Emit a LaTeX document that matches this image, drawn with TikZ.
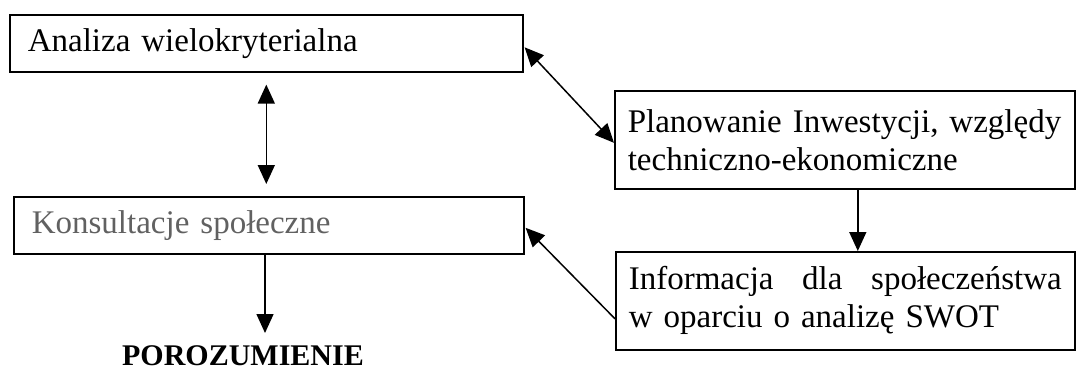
\documentclass[tikz,border=0pt]{standalone}
\usepackage{fontspec}
\setmainfont{Liberation Serif}
\usetikzlibrary{arrows.meta,calc}
\definecolor{txtgray}{rgb}{0.38,0.38,0.38}
\tikzset{
  box/.style={draw, line width=1.6pt, rectangle, anchor=north west, inner ysep=0pt,
    font=\fontsize{33}{38}\selectfont, align=left},
  conn/.style={line width=1.5pt, -{Triangle[length=19pt,width=17pt]}},
  dconn/.style={line width=1.5pt, {Triangle[length=19pt,width=17pt]}-{Triangle[length=19pt,width=17pt]}}
}
\begin{document}
\begin{tikzpicture}[x=1pt,y=-1pt]
\useasboundingbox (0,0) rectangle (1076,373);
\node[box, inner xsep=18pt, text width=477pt, minimum height=57pt] (b1) at (9,14) {Analiza wielokryterialna};
\node[box, inner xsep=18pt, text width=474pt, minimum height=57pt, text=txtgray] (b3) at (13,196) {Konsultacje społeczne};
\node[box, inner xsep=13pt, text width=434pt, minimum height=98pt] (b2) at (614,90) {\mbox{Planowanie Inwestycji, względy}\\techniczno-ekonomiczne};
\node[box, inner xsep=13pt, text width=433pt, minimum height=98pt] (b4) at (615,251) {Informacja\hfill dla\hfill społeczeństwa\\w oparciu o analizę SWOT};
\node[font=\fontsize{30}{34}\selectfont\bfseries, inner sep=0pt, anchor=base] (p) at (243,365) {POROZUMIENIE};
\coordinate (pe) at (265,333);
\draw[dconn] ([yshift=-12pt]b1.south) -- ([yshift=12pt]b1.south |- b3.north);
\draw[dconn] ([xshift=1pt,yshift=-4pt]b1.east) -- ([yshift=-3pt]b2.west);
\draw[conn] ([xshift=13pt]b2.south) -- ([xshift=13pt]b2.south |- b4.north);
\draw[conn] ([yshift=-18pt]b4.west) -- ([xshift=1pt,yshift=-2.5pt]b3.east);
\draw[conn] (b3.south -| pe) -- (pe);
\end{tikzpicture}
\end{document}
